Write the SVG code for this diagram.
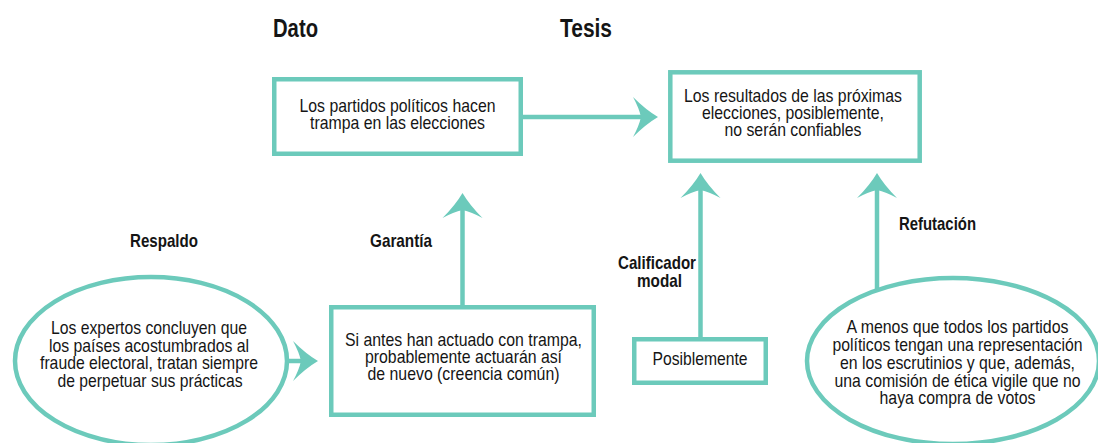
<svg xmlns="http://www.w3.org/2000/svg" width="1098" height="443" viewBox="0 0 1098 443">
  <style>
    .shape { fill: #ffffff; stroke: #6ccabb; stroke-width: 4.5; }
    .conn { fill: none; stroke: #6ccabb; stroke-width: 4.5; }
    .txt { font-family: "Liberation Sans", Arial, sans-serif; font-size: 19px; fill: #151515; text-anchor: middle; }
    .lbl { font-family: "Liberation Sans", Arial, sans-serif; font-weight: bold; font-size: 18.5px; fill: #151515; text-anchor: middle; }
    .title { font-family: "Liberation Sans", Arial, sans-serif; font-weight: bold; font-size: 25px; fill: #151515; }
  </style>
  <defs>
    <marker id="arrow" viewBox="-42 -21 44 42" refX="-15" refY="0" markerWidth="44" markerHeight="42" markerUnits="userSpaceOnUse" orient="auto">
      <path d="M0,0 Q-12,-7 -25,-20 Q-19,-9 -17,0 Q-19,9 -25,20 Q-12,7 0,0 Z" fill="#6ccabb"/>
    </marker>
  </defs>
  <rect width="1098" height="443" fill="#ffffff"/>

  <text class="title" x="273" y="37" textLength="45" lengthAdjust="spacingAndGlyphs">Dato</text>
  <text class="title" x="560" y="37" textLength="52" lengthAdjust="spacingAndGlyphs">Tesis</text>

  <g id="connectors">
    <path class="conn" d="M523,117 H643" marker-end="url(#arrow)"/>
    <path class="conn" d="M462.5,305 V208" marker-end="url(#arrow)"/>
    <path class="conn" d="M287,361 H303" marker-end="url(#arrow)"/>
    <path class="conn" d="M700.5,337 V188" marker-end="url(#arrow)"/>
    <path class="conn" d="M877,291 V188" marker-end="url(#arrow)"/>
  </g>

  <g id="dato">
    <rect class="shape" x="274.25" y="79.25" width="246.5" height="74.5"/>
    <text class="txt" x="397.5" y="112" textLength="196" lengthAdjust="spacingAndGlyphs">Los partidos políticos hacen</text>
    <text class="txt" x="397.5" y="129" textLength="175" lengthAdjust="spacingAndGlyphs">trampa en las elecciones</text>
  </g>

  <g id="tesis">
    <rect class="shape" x="670.3" y="72.3" width="249.4" height="88.4"/>
    <text class="txt" x="793" y="102" textLength="218" lengthAdjust="spacingAndGlyphs">Los resultados de las próximas</text>
    <text class="txt" x="793" y="119" textLength="182" lengthAdjust="spacingAndGlyphs">elecciones, posiblemente,</text>
    <text class="txt" x="793" y="136" textLength="137" lengthAdjust="spacingAndGlyphs">no serán confiables</text>
  </g>

  <g id="garantia">
    <text class="lbl" x="401" y="247" textLength="62" lengthAdjust="spacingAndGlyphs">Garantía</text>
    <rect class="shape" x="331.25" y="307.25" width="262.5" height="107.5"/>
    <text class="txt" x="463.5" y="346" textLength="237" lengthAdjust="spacingAndGlyphs">Si antes han actuado con trampa,</text>
    <text class="txt" x="463.5" y="363" textLength="197" lengthAdjust="spacingAndGlyphs">probablemente actuarán así</text>
    <text class="txt" x="463.5" y="380" textLength="192" lengthAdjust="spacingAndGlyphs">de nuevo (creencia común)</text>
  </g>

  <g id="respaldo">
    <text class="lbl" x="164" y="247" textLength="68" lengthAdjust="spacingAndGlyphs">Respaldo</text>
    <ellipse class="shape" cx="151" cy="361" rx="136" ry="84"/>
    <text class="txt" x="149" y="334" textLength="196" lengthAdjust="spacingAndGlyphs">Los expertos concluyen que</text>
    <text class="txt" x="149" y="352" textLength="200" lengthAdjust="spacingAndGlyphs">los países acostumbrados al</text>
    <text class="txt" x="149" y="369" textLength="218" lengthAdjust="spacingAndGlyphs">fraude electoral, tratan siempre</text>
    <text class="txt" x="150" y="387" textLength="185" lengthAdjust="spacingAndGlyphs">de perpetuar sus prácticas</text>
  </g>

  <g id="calificador">
    <text class="lbl" x="657" y="269" textLength="78" lengthAdjust="spacingAndGlyphs">Calificador</text>
    <text class="lbl" x="659.5" y="287" textLength="45" lengthAdjust="spacingAndGlyphs">modal</text>
    <rect class="shape" x="634.25" y="339.25" width="131.5" height="43.5"/>
    <text class="txt" x="700" y="365" textLength="95" lengthAdjust="spacingAndGlyphs">Posiblemente</text>
  </g>

  <g id="refutacion">
    <text class="lbl" x="937.5" y="230" textLength="77" lengthAdjust="spacingAndGlyphs">Refutación</text>
    <ellipse class="shape" cx="953" cy="361" rx="146" ry="83"/>
    <text class="txt" x="957.5" y="333" textLength="222" lengthAdjust="spacingAndGlyphs">A menos que todos los partidos</text>
    <text class="txt" x="957.5" y="351" textLength="250" lengthAdjust="spacingAndGlyphs">políticos tengan una representación</text>
    <text class="txt" x="957.5" y="369" textLength="235" lengthAdjust="spacingAndGlyphs">en los escrutinios y que, además,</text>
    <text class="txt" x="957.5" y="387" textLength="246" lengthAdjust="spacingAndGlyphs">una comisión de ética vigile que no</text>
    <text class="txt" x="957.5" y="404" textLength="156" lengthAdjust="spacingAndGlyphs">haya compra de votos</text>
  </g>
</svg>
